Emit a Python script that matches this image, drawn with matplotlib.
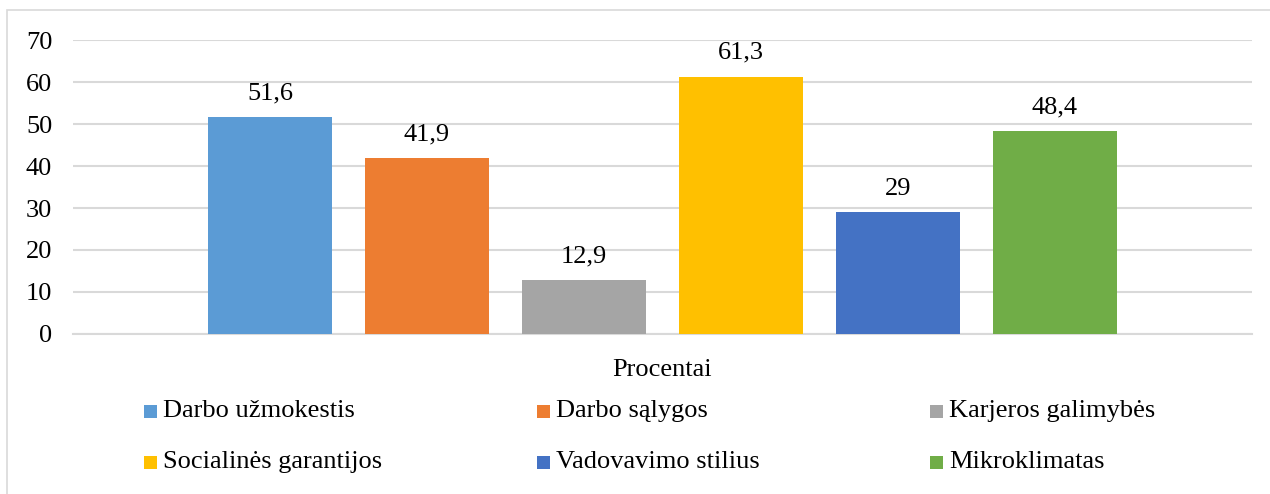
import matplotlib
matplotlib.use("Agg")
import matplotlib.pyplot as plt
from matplotlib.patches import Rectangle

categories = ["Darbo užmokestis", "Darbo sąlygos", "Karjeros galimybės",
              "Socialinės garantijos", "Vadovavimo stilius", "Mikroklimatas"]
values = [51.6, 41.9, 12.9, 61.3, 29, 48.4]
colors = ["#5B9BD5", "#ED7D31", "#A5A5A5", "#FFC000", "#4472C4", "#70AD47"]
yticks = [0, 10, 20, 30, 40, 50, 60, 70]
xlabel = "Procentai"

plt.rcParams['font.family'] = ['Liberation Serif', 'DejaVu Serif']

W, H = 1270, 494
fig = plt.figure(figsize=(W / 100, H / 100), dpi=100)

# outer chart border
fig.patches.append(Rectangle((7 / W, 0 - 0.01), 1.02, (H - 10) / H + 0.01,
                             transform=fig.transFigure, fill=False,
                             edgecolor="#D9D9D9", linewidth=1.2))

ax = fig.add_axes([73 / W, (H - 334) / H, (1252 - 73) / W, (334 - 40) / H])
x = list(range(len(values)))
ax.bar(x, values, width=124 / 157, color=colors, zorder=3)
for xi, v in zip(x, values):
    ax.text(xi, v + 3.0, f"{v:g}".replace(".", ","), ha="center", va="bottom",
            fontsize=19, color="#000000")
ax.set_xlim(-197 / 157, 5 + 197 / 157)
ax.set_ylim(0, 70)
ax.set_yticks(yticks)
ax.set_yticklabels([str(t) for t in yticks], fontsize=19)
ax.set_xticks([])
ax.grid(axis="y", color="#D9D9D9", linewidth=1.5, zorder=0)
for s in ["top", "right", "left"]:
    ax.spines[s].set_visible(False)
ax.spines["bottom"].set_color("#D9D9D9")
ax.spines["bottom"].set_linewidth(1.5)
ax.tick_params(axis="y", length=0, pad=15)
ax.set_xlabel(xlabel, fontsize=19, labelpad=18)

# legend (3 columns, row-wise)
col_x = [144, 537, 930]
row_y = [411, 462]
for i, (name, c) in enumerate(zip(categories, colors)):
    r, cidx = divmod(i, 3)
    mx, my = col_x[cidx], row_y[r]
    fig.patches.append(Rectangle((mx / W, (H - my - 6.5) / H), 13 / W, 13 / H,
                                 transform=fig.transFigure, facecolor=c,
                                 edgecolor="none"))
    fig.text((mx + 19) / W, (H - my) / H, name, fontsize=19, va="center",
             ha="left", color="#000000")

fig.savefig("out.png", dpi=100)
